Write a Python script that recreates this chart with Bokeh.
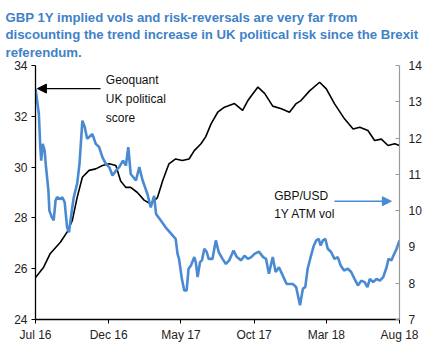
import pandas as pd
from bokeh.plotting import figure
from bokeh.models import (Range1d, LinearAxis, FixedTicker, DatetimeTickFormatter,
                          Label, Arrow, NormalHead)
from bokeh.embed import file_html
from bokeh.resources import INLINE

# ---------------- data ----------------
geo_dates = ["2016-07-01", "2016-07-18", "2016-08-01", "2016-08-22", "2016-09-05", "2016-09-16",
             "2016-09-26", "2016-10-07", "2016-10-21", "2016-11-04", "2016-11-18", "2016-12-02",
             "2016-12-16", "2016-12-26", "2017-01-06", "2017-01-16", "2017-01-30", "2017-02-13",
             "2017-02-27", "2017-03-13", "2017-03-24", "2017-04-06", "2017-04-20", "2017-05-04",
             "2017-05-18", "2017-05-29", "2017-06-12", "2017-06-22", "2017-07-03", "2017-07-17",
             "2017-07-31", "2017-08-21", "2017-09-07", "2017-09-18", "2017-10-09", "2017-10-23",
             "2017-11-09", "2017-11-27", "2017-12-14", "2017-12-28", "2018-01-07", "2018-01-25",
             "2018-02-15", "2018-03-01", "2018-03-18", "2018-04-08", "2018-04-26", "2018-05-10",
             "2018-05-27", "2018-06-10", "2018-06-24", "2018-07-08", "2018-07-22", "2018-08-01"]
geo_score = [25.65, 26.06, 26.6, 27.04, 27.44, 27.9,
             28.8, 29.6, 29.87, 29.93, 30.06, 30.13,
             30.06, 29.45, 29.2, 29.2, 29.0, 28.7,
             28.55, 28.8, 29.47, 30.13, 30.32, 30.26,
             30.32, 30.65, 30.92, 31.2, 31.7, 32.16,
             32.36, 32.5, 32.23, 32.62, 33.15, 32.9,
             32.4, 32.3, 32.16, 32.5, 32.62, 33.0,
             33.34, 33.08, 32.5, 31.9, 31.5, 31.57,
             31.44, 31.05, 31.1, 30.85, 30.92, 30.85]

vol_dates = ["2016-07-01", "2016-07-08", "2016-07-11", "2016-07-13", "2016-07-16", "2016-07-20",
             "2016-07-23", "2016-07-28", "2016-07-30", "2016-08-04", "2016-08-08", "2016-08-12",
             "2016-08-15", "2016-08-22", "2016-08-26", "2016-08-31", "2016-09-05", "2016-09-09",
             "2016-09-14", "2016-09-19", "2016-09-26", "2016-10-01", "2016-10-07", "2016-10-12",
             "2016-10-17", "2016-10-28", "2016-11-04", "2016-11-11", "2016-11-18", "2016-11-25",
             "2016-12-02", "2016-12-09", "2016-12-16", "2016-12-23", "2016-12-31", "2017-01-06",
             "2017-01-11", "2017-01-16", "2017-01-27", "2017-02-03", "2017-02-10", "2017-02-20",
             "2017-02-27", "2017-03-06", "2017-03-10", "2017-03-20", "2017-03-30", "2017-04-14",
             "2017-04-20", "2017-04-24", "2017-04-27", "2017-05-03", "2017-05-08", "2017-05-13",
             "2017-05-17", "2017-05-22", "2017-05-29", "2017-06-01", "2017-06-05", "2017-06-10",
             "2017-06-14", "2017-06-19", "2017-06-24", "2017-06-28", "2017-07-06", "2017-07-13",
             "2017-07-19", "2017-07-27", "2017-08-03", "2017-08-10", "2017-08-19", "2017-08-26",
             "2017-09-04", "2017-09-11", "2017-09-18", "2017-09-25", "2017-10-02", "2017-10-11",
             "2017-10-20", "2017-10-26", "2017-11-01", "2017-11-09", "2017-11-15", "2017-11-22",
             "2017-11-30", "2017-12-08", "2017-12-21", "2017-12-28", "2018-01-05", "2018-01-11",
             "2018-01-16", "2018-01-21", "2018-01-28", "2018-02-03", "2018-02-08", "2018-02-13",
             "2018-02-17", "2018-02-22", "2018-02-27", "2018-03-04", "2018-03-11", "2018-03-18",
             "2018-03-25", "2018-03-31", "2018-04-07", "2018-04-15", "2018-04-22", "2018-04-29",
             "2018-05-06", "2018-05-13", "2018-05-20", "2018-05-26", "2018-05-31", "2018-06-07",
             "2018-06-14", "2018-06-21", "2018-06-28", "2018-07-05", "2018-07-09", "2018-07-15",
             "2018-07-21", "2018-07-26", "2018-08-01"]
vol_values = [13.36, 12.67, 11.75, 11.38, 11.84, 11.66,
              11.2, 10.55, 10.0, 9.82, 9.73, 10.28,
              10.37, 10.32, 10.37, 10.23, 9.54, 9.4,
              9.91, 10.37, 10.74, 11.29, 12.48, 12.3,
              11.98, 12.11, 11.84, 11.75, 11.47, 11.29,
              11.2, 10.97, 11.1, 11.2, 11.38, 11.24,
              11.75, 11.01, 10.83, 11.2, 10.83, 10.46,
              10.09, 10.41, 9.91, 9.73, 9.54, 9.31,
              9.22, 8.81, 8.67, 8.12, 7.8, 7.8,
              8.4, 8.49, 8.72, 8.58, 8.17, 8.58,
              8.63, 8.95, 8.86, 8.67, 8.67, 9.18,
              8.86, 8.67, 8.53, 8.63, 8.9, 8.72,
              8.63, 8.76, 8.67, 8.72, 8.81, 8.87,
              8.72, 8.67, 8.26, 8.72, 8.31, 8.44,
              8.21, 7.98, 7.98, 7.89, 7.39, 7.85,
              7.89, 8.4, 8.76, 9.04, 9.18, 9.22,
              9.04, 9.18, 9.22, 8.95, 8.86, 8.67,
              8.72, 8.49, 8.35, 8.4, 8.31, 8.12,
              7.94, 8.07, 8.03, 7.89, 8.12, 8.03,
              8.12, 8.07, 8.17, 8.44, 8.67, 8.63,
              8.81, 8.95, 9.18]

left_ticks = [24, 26, 28, 30, 32, 34]
right_ticks = [7, 8, 9, 10, 11, 12, 13, 14]
x_tick_dates = ["2016-07-01", "2016-12-01", "2017-05-01", "2017-10-01", "2018-03-01", "2018-08-01"]

title_text = ("GBP 1Y implied vols and risk-reversals are very far from\n"
              "discounting the trend increase in UK political risk since the Brexit\n"
              "referendum.")
geo_label = "Geoquant\nUK political\nscore"
vol_label = "GBP/USD\n1Y ATM vol"

BLUE = "#4A8AD2"
TITLE_BLUE = "#3F82C8"
FONT = "Liberation Sans"

gd = pd.to_datetime(geo_dates)
vd = pd.to_datetime(vol_dates)
xt = pd.to_datetime(x_tick_dates)

p = figure(width=435, height=351, x_axis_type="datetime",
           x_range=Range1d(xt[0], xt[-1]), y_range=Range1d(24, 34),
           output_backend="svg", toolbar_location=None,
           min_border_left=35, min_border_right=36, min_border_top=65, min_border_bottom=32)
p.extra_y_ranges = {"vol": Range1d(7, 14)}

p.title.text = title_text
p.title.text_font = FONT
p.title.text_font_size = "13.2px"
p.title.text_font_style = "bold"
p.title.text_color = TITLE_BLUE
p.title.align = "left"
p.title.text_line_height = 1.15
p.title.offset = -30
p.title.standoff = 12

p.xgrid.visible = False
p.ygrid.visible = False
p.outline_line_color = None
p.background_fill_color = "white"
p.border_fill_color = "white"

# lines
p.line(gd, geo_score, color="black", line_width=1.6)
p.line(vd, vol_values, color=BLUE, line_width=2.6, y_range_name="vol")

# x axis
xa = p.xaxis[0]
xa.ticker = FixedTicker(ticks=[t.value // 10**6 for t in xt])
xa.formatter = DatetimeTickFormatter(days="%b %y", months="%b %y", years="%b %y")
xa.minor_tick_line_color = None
xa.major_tick_in = 0
xa.major_tick_out = 4
xa.axis_line_color = "black"
xa.axis_line_width = 1.3
xa.major_label_text_font = FONT
xa.major_label_text_font_size = "12px"
xa.major_label_text_color = "#222222"
xa.major_label_standoff = 4

# left axis
ya = p.yaxis[0]
ya.ticker = FixedTicker(ticks=left_ticks)
ya.minor_tick_line_color = None
ya.major_tick_in = 0
ya.major_tick_out = 4
ya.axis_line_color = "black"
ya.axis_line_width = 1.3
ya.major_label_text_font = FONT
ya.major_label_text_font_size = "12px"
ya.major_label_text_color = "#222222"
ya.major_label_standoff = 4

# right axis
ra = LinearAxis(y_range_name="vol", ticker=FixedTicker(ticks=right_ticks))
ra.minor_tick_line_color = None
ra.major_tick_in = 4
ra.major_tick_out = 0
ra.axis_line_color = "#999999"
ra.major_tick_line_color = "#999999"
ra.axis_line_width = 1.2
ra.major_label_text_font = FONT
ra.major_label_text_font_size = "12px"
ra.major_label_text_color = "#222222"
ra.major_label_standoff = 9
p.add_layout(ra, "right")

# annotations
p.add_layout(Label(x=pd.Timestamp("2016-11-25"), y=33.69, text=geo_label,
                   text_font=FONT, text_font_size="12px", text_color="#111111",
                   text_baseline="top", text_align="left", text_line_height=1.35))
p.add_layout(Arrow(x_start=pd.Timestamp("2016-11-14"), y_start=33.09,
                   x_end=pd.Timestamp("2016-07-05"), y_end=33.09,
                   line_color="black", line_width=1.2,
                   end=NormalHead(size=9, fill_color="black", line_color="black")))

p.add_layout(Label(x=pd.Timestamp("2017-11-12"), y=10.61, y_range_name="vol", text=vol_label,
                   text_font=FONT, text_font_size="12px", text_color="#111111",
                   text_baseline="top", text_align="left", text_line_height=1.35))
p.add_layout(Arrow(x_start=pd.Timestamp("2018-03-18"), y_start=10.26,
                   x_end=pd.Timestamp("2018-07-15"), y_end=10.26, y_range_name="vol",
                   line_color=BLUE, line_width=1.6,
                   end=NormalHead(size=9, fill_color=BLUE, line_color=BLUE)))

open("out.html", "w").write(file_html(p, INLINE))
